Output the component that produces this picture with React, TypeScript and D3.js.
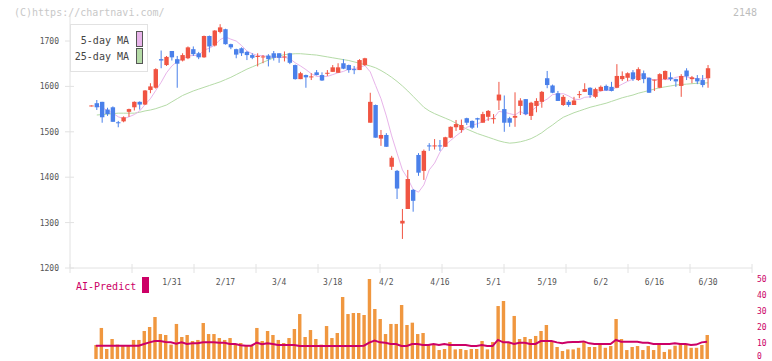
import React from "react";
import * as d3 from "d3";

// daily candles, index 0 = first visible day
const opens = [1556, 1563, 1566, 1549, 1554, 1521, 1523, 1544, 1554, 1566, 1560, 1592, 1597, 1660, 1647, 1678, 1660, 1657, 1662, 1682, 1673, 1664, 1711, 1690, 1720, 1726, 1693, 1682, 1684, 1676, 1669, 1666, 1665, 1668, 1673, 1673, 1665, 1673, 1647, 1616, 1625, 1621, 1631, 1625, 1629, 1632, 1630, 1651, 1647, 1638, 1636, 1647, 1520, 1559, 1485, 1493, 1423, 1414, 1298, 1330, 1372, 1449, 1414, 1470, 1469, 1470, 1467, 1487, 1510, 1504, 1530, 1524, 1530, 1520, 1533, 1529, 1569, 1550, 1530, 1531, 1557, 1572, 1535, 1557, 1566, 1618, 1602, 1585, 1559, 1566, 1559, 1582, 1588, 1597, 1577, 1590, 1601, 1599, 1597, 1616, 1619, 1631, 1614, 1629, 1619, 1614, 1597, 1616, 1620, 1616, 1601, 1635, 1616, 1618, 1614, 1618];
const highs = [1558, 1570, 1566, 1553, 1556, 1524, 1534, 1551, 1567, 1567, 1592, 1607, 1640, 1679, 1667, 1678, 1667, 1673, 1688, 1688, 1676, 1712, 1712, 1724, 1737, 1727, 1694, 1683, 1686, 1678, 1673, 1673, 1669, 1671, 1678, 1673, 1677, 1674, 1648, 1632, 1626, 1629, 1636, 1631, 1636, 1647, 1651, 1660, 1648, 1645, 1660, 1663, 1586, 1560, 1504, 1497, 1447, 1416, 1330, 1416, 1374, 1453, 1461, 1475, 1484, 1482, 1489, 1512, 1526, 1527, 1531, 1525, 1531, 1544, 1548, 1539, 1610, 1580, 1533, 1587, 1574, 1572, 1566, 1574, 1590, 1634, 1604, 1590, 1581, 1570, 1577, 1590, 1607, 1598, 1597, 1602, 1604, 1610, 1649, 1633, 1631, 1636, 1642, 1635, 1620, 1615, 1629, 1635, 1631, 1617, 1627, 1640, 1623, 1625, 1625, 1647];
const lows = [1556, 1548, 1520, 1535, 1522, 1510, 1521, 1533, 1547, 1549, 1559, 1585, 1595, 1640, 1645, 1657, 1597, 1655, 1660, 1667, 1660, 1663, 1675, 1688, 1717, 1692, 1682, 1662, 1667, 1658, 1660, 1644, 1651, 1644, 1657, 1652, 1655, 1649, 1615, 1616, 1597, 1614, 1624, 1612, 1623, 1632, 1630, 1638, 1630, 1627, 1636, 1645, 1520, 1487, 1469, 1467, 1416, 1352, 1264, 1330, 1324, 1403, 1394, 1458, 1461, 1458, 1467, 1486, 1502, 1498, 1515, 1506, 1509, 1520, 1524, 1518, 1548, 1500, 1511, 1511, 1537, 1537, 1526, 1543, 1553, 1596, 1585, 1568, 1557, 1555, 1559, 1574, 1588, 1575, 1574, 1589, 1590, 1589, 1596, 1612, 1612, 1612, 1612, 1607, 1586, 1590, 1596, 1614, 1612, 1599, 1577, 1614, 1607, 1605, 1598, 1597];
const closes = [1558, 1554, 1532, 1539, 1522, 1520, 1532, 1550, 1566, 1560, 1591, 1600, 1638, 1657, 1665, 1664, 1650, 1669, 1686, 1671, 1664, 1711, 1688, 1723, 1730, 1693, 1686, 1670, 1673, 1669, 1663, 1667, 1666, 1660, 1663, 1663, 1666, 1652, 1616, 1629, 1620, 1622, 1625, 1613, 1630, 1642, 1642, 1639, 1636, 1637, 1658, 1662, 1566, 1487, 1493, 1467, 1443, 1375, 1304, 1396, 1348, 1410, 1458, 1469, 1470, 1469, 1488, 1511, 1517, 1515, 1520, 1509, 1527, 1539, 1546, 1530, 1582, 1520, 1520, 1535, 1569, 1539, 1564, 1568, 1588, 1603, 1586, 1568, 1577, 1559, 1569, 1583, 1594, 1581, 1594, 1599, 1591, 1590, 1623, 1623, 1629, 1616, 1638, 1616, 1586, 1615, 1627, 1634, 1616, 1611, 1623, 1622, 1620, 1611, 1603, 1640];

// lines, volume and prediction start at day 1
const ma5 = [1558, 1553, 1547, 1541, 1533, 1529, 1533, 1538, 1546, 1560, 1573, 1591, 1609, 1630, 1645, 1655, 1661, 1667, 1668, 1668, 1680, 1684, 1691, 1703, 1709, 1704, 1700, 1690, 1678, 1672, 1668, 1668, 1665, 1664, 1664, 1664, 1661, 1652, 1645, 1637, 1628, 1622, 1622, 1622, 1626, 1630, 1633, 1638, 1639, 1642, 1646, 1632, 1602, 1573, 1535, 1491, 1453, 1416, 1397, 1373, 1367, 1383, 1416, 1431, 1455, 1471, 1481, 1491, 1500, 1510, 1514, 1518, 1522, 1528, 1530, 1545, 1543, 1540, 1537, 1545, 1537, 1545, 1555, 1566, 1572, 1582, 1583, 1584, 1579, 1572, 1571, 1576, 1577, 1584, 1590, 1592, 1591, 1599, 1605, 1611, 1616, 1626, 1624, 1617, 1614, 1616, 1615, 1615, 1620, 1622, 1621, 1618, 1617, 1616, 1619];
const ma25 = [1537, 1538, 1539, 1540, 1541, 1541, 1541, 1541, 1543, 1546, 1548, 1551, 1555, 1559, 1566, 1573, 1580, 1585, 1590, 1594, 1598, 1602, 1606, 1610, 1615, 1620, 1626, 1632, 1638, 1643, 1648, 1653, 1658, 1663, 1667, 1670, 1671, 1672, 1672, 1671, 1670, 1669, 1667, 1665, 1663, 1661, 1659, 1657, 1654, 1651, 1648, 1645, 1641, 1635, 1628, 1620, 1611, 1601, 1590, 1578, 1566, 1554, 1546, 1540, 1535, 1530, 1525, 1519, 1512, 1506, 1501, 1496, 1492, 1488, 1484, 1480, 1477, 1475, 1476, 1478, 1481, 1485, 1491, 1498, 1507, 1515, 1524, 1532, 1537, 1542, 1546, 1550, 1554, 1557, 1560, 1563, 1567, 1571, 1575, 1578, 1581, 1585, 1588, 1591, 1594, 1597, 1599, 1601, 1603, 1604, 1605, 1606, 1607, 1607, 1608];
const volumes = [8.75, 19.4, 6.25, 12.5, 9, 8.75, 8.75, 11.9, 11.9, 17.5, 20, 26.25, 15.6, 15, 9, 21.9, 13.75, 15, 11.25, 11.9, 22.5, 15.6, 15.6, 13.1, 11.9, 13.1, 8.75, 10, 8.75, 8.75, 19.4, 11.25, 17.5, 15, 11.9, 10, 13.1, 18.75, 28.1, 13.75, 18.1, 12.5, 9, 20.6, 13.1, 16.25, 38.75, 28.1, 28.75, 28.75, 27.5, 50, 31.25, 25, 15.6, 21.9, 21.9, 33.75, 21.25, 22.7, 15.6, 16.25, 8.75, 8.75, 5.6, 6.25, 10.6, 6, 6.25, 5.6, 6.25, 6.25, 11.25, 6, 10.6, 33.1, 36.25, 10.6, 26.9, 12.5, 13.75, 12.5, 14.4, 17.5, 21.25, 10.6, 7.5, 5, 6, 6, 7, 10.6, 7.5, 7.5, 8.75, 7, 8.1, 25, 12.5, 5.6, 7.5, 8.1, 5.6, 8.1, 5.6, 8.75, 4.4, 6, 8.3, 9.4, 8.75, 7, 7, 8.75, 15];
const aiPredict = [8.3, 8.3, 8.3, 8.3, 8.3, 8.3, 8.3, 8.3, 8.3, 9.4, 10.4, 11.2, 11.2, 10.6, 10.4, 9.6, 10.4, 9.4, 9.8, 9.8, 10.4, 10.4, 10.4, 10.2, 10.2, 9.4, 9.4, 8.6, 8.3, 8.3, 10.2, 9.2, 9.8, 9.4, 8.8, 8.8, 8.8, 8.8, 8.1, 8.1, 8.1, 8.1, 8.1, 8.1, 8.1, 8.1, 8.1, 8.1, 8.1, 8.1, 8.3, 10.2, 11.5, 10.4, 10.2, 9.4, 9.4, 8.1, 8.1, 9.4, 9.4, 8.75, 8.75, 9.4, 8.75, 9.4, 8.75, 8.75, 8.75, 8.75, 8.1, 8.1, 8.75, 8.1, 8.1, 11.9, 10.4, 10.4, 9.4, 10.2, 10.2, 9.4, 9.4, 11.25, 11.25, 11.25, 10.4, 9.8, 10.4, 10.6, 10.6, 11.0, 9.8, 9.4, 9.4, 9.4, 9.4, 11.9, 10.8, 10.8, 10.8, 10.8, 10.2, 10.2, 9.4, 9.4, 9.4, 9.4, 9.8, 9.4, 9.4, 8.8, 9.0, 10.4, 10.8];

const priceTicks = [1200, 1300, 1400, 1500, 1600, 1700];
const volumeTicks = [0, 10, 20, 30, 40, 50];
const dateLabels = ["1/31", "2/17", "3/4", "3/18", "4/2", "4/16", "5/1", "5/19", "6/2", "6/16", "6/30"];
const dateLabelDays = [15, 25, 35, 45, 55, 65, 75, 85, 95, 105, 115];

const W = 772;
const H = 361;
const FONT = "'DejaVu Sans Mono', monospace";
const UP = "#f05442";
const DOWN = "#4a80ea";

export default function App() {
  const x = d3.scaleLinear().domain([-4, 123.2]).range([70, 752]);
  const y = d3.scaleLinear().domain([1200, 1700]).range([268, 41]);
  const yv = d3.scaleLinear().domain([0, 50]).range([359, 279]);

  const days = d3.range(opens.length);
  const lineDays = d3.range(1, opens.length);
  const bodyW = 4.4;

  const ma5Line = d3.line<number>().x((d, k) => x(k + 1)).y((d) => y(d));
  const ma25Line = d3.line<number>().x((d, k) => x(k + 1)).y((d) => y(d));
  const aiLine = d3.line<number>().x((d, k) => x(k + 1) - 1).y((d) => yv(d));

  // evenly spaced tick marks along the bottom axis
  const gridX = d3.range(12).map((k) => 70 + (k * (752 - 70)) / 11);

  return (
    <svg width={W} height={H} style={{ position: "absolute", left: 0, top: 0, background: "#fff" }}>
      <text x={14} y={16} fontFamily={FONT} fontSize={10} fill="#c8c8c8">(C)https://chartnavi.com/</text>
      <text x={757} y={16} fontFamily={FONT} fontSize={10} fill="#bdbdbd" textAnchor="end">2148</text>

      {/* axes */}
      <line x1={70} x2={70} y1={14} y2={268} stroke="#e2e2e2" />
      <line x1={70} x2={752} y1={268} y2={268} stroke="#e2e2e2" />
      {gridX.map((gx, k) => (
        <line key={k} x1={gx} x2={gx} y1={264} y2={273} stroke="#e2e2e2" />
      ))}
      {priceTicks.map((p) => (
        <g key={p}>
          <line x1={65} x2={74} y1={y(p)} y2={y(p)} stroke="#e2e2e2" />
          <text x={59} y={y(p) + 3} fontFamily={FONT} fontSize={8} fill="#555" textAnchor="end">{p}</text>
        </g>
      ))}
      {dateLabels.map((lab, k) => (
        <text key={lab} x={x(dateLabelDays[k])} y={285} fontFamily={FONT} fontSize={8} fill="#555" textAnchor="middle">{lab}</text>
      ))}

      {/* moving averages */}
      <path d={ma25Line(ma25) || ""} fill="none" stroke="#b5dba7" strokeWidth={1} />
      <path d={ma5Line(ma5) || ""} fill="none" stroke="#e8b4ea" strokeWidth={1} />

      {/* candles */}
      {days.map((i) => {
        const up = closes[i] >= opens[i];
        const col = up ? UP : DOWN;
        const top = y(Math.max(opens[i], closes[i]));
        const bot = y(Math.min(opens[i], closes[i]));
        return (
          <g key={i}>
            <line x1={x(i)} x2={x(i)} y1={y(highs[i])} y2={y(lows[i])} stroke={col} strokeWidth={1} />
            <rect x={x(i) - bodyW / 2} y={top} width={bodyW} height={Math.max(1, bot - top)} fill={col} />
          </g>
        );
      })}

      {/* legend */}
      <rect x={70.5} y={24.5} width={77} height={47} fill="#fff" stroke="#e2e2e2" />
      <text x={129} y={44} fontFamily={FONT} fontSize={10} fill="#444" textAnchor="end">5-day MA</text>
      <text x={129} y={60} fontFamily={FONT} fontSize={10} fill="#444" textAnchor="end">25-day MA</text>
      <rect x={136.5} y={31.5} width={6} height={15} fill="#e8b4ea" stroke="#555" />
      <rect x={136.5} y={48.5} width={6} height={15} fill="#b5dba7" stroke="#555" />

      {/* volume panel */}
      <text x={76} y={290} fontFamily={FONT} fontSize={10} fill="#cc0066">AI-Predict</text>
      <rect x={142} y={277} width={7} height={16} fill="#cc0066" />
      {volumeTicks.map((v) => (
        <text key={v} x={757} y={Math.min(yv(v) + 3, 359)} fontFamily={FONT} fontSize={8} fill="#cc0066">{v}</text>
      ))}
      {lineDays.map((i) => (
        <rect key={i} x={x(i) - 2.5} y={yv(volumes[i - 1])} width={3.4} height={yv(0) - yv(volumes[i - 1])} fill="#f0973f" />
      ))}
      <path d={aiLine(aiPredict) || ""} fill="none" stroke="#cc0066" strokeWidth={2} />
    </svg>
  );
}
